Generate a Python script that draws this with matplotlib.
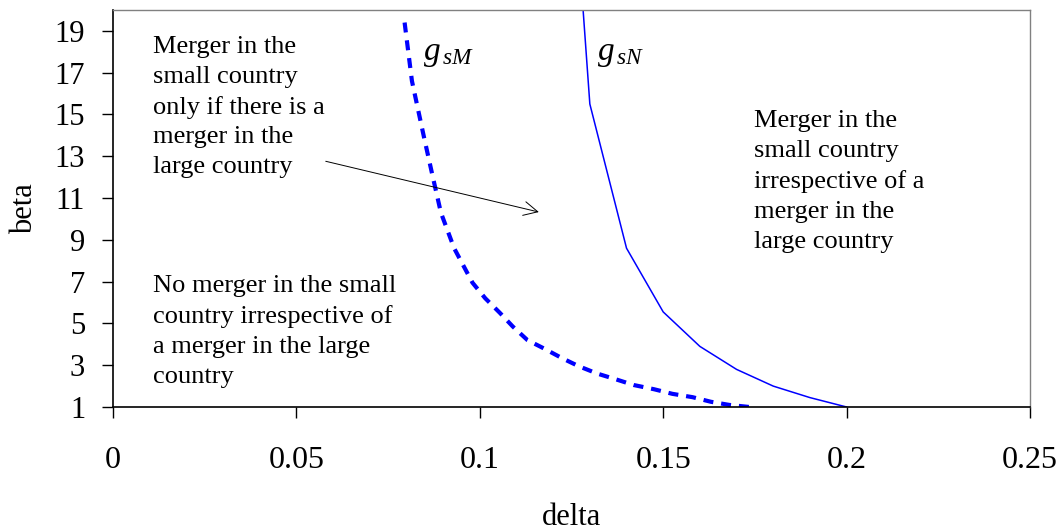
import matplotlib
matplotlib.use("Agg")
import matplotlib.pyplot as plt

# Daten
delta_M = [0.0795, 0.0815, 0.0848, 0.0872, 0.0894, 0.093, 0.098, 0.1015, 0.1055, 0.109,
           0.113, 0.1175, 0.1225, 0.127, 0.132, 0.137, 0.142, 0.1475, 0.1525, 0.158,
           0.163, 0.168, 0.1735]
beta_M = [19.4, 16.6, 13.9, 12.0, 10.3, 8.6, 6.95, 6.2, 5.5, 4.85,
          4.2, 3.8, 3.33, 2.95, 2.6, 2.33, 2.05, 1.85, 1.63, 1.47,
          1.25, 1.1, 1.0]

delta_N = [0.12, 0.13, 0.14, 0.15, 0.16, 0.17, 0.18, 0.19, 0.2]
beta_N = [40.0, 15.5, 8.6, 5.55, 3.9, 2.8, 2.0, 1.45, 1.0]

x_ticks = [0, 0.05, 0.1, 0.15, 0.2, 0.25]
x_labels = ['0', '0.05', '0.1', '0.15', '0.2', '0.25']
y_ticks = [1, 3, 5, 7, 9, 11, 13, 15, 17, 19]

plt.rcParams['font.family'] = ['Liberation Serif', 'DejaVu Serif']
plt.rcParams['mathtext.fontset'] = 'custom'
plt.rcParams['mathtext.it'] = 'Liberation Serif:italic'
plt.rcParams['mathtext.rm'] = 'Liberation Serif'

fig = plt.figure(figsize=(10.59, 5.31), dpi=100)
ax = fig.add_axes([113 / 1059, 1 - 407 / 531, (1030 - 113) / 1059, (407 - 10) / 531])

ax.plot(delta_M, beta_M, color='#0000ff', lw=3.0, linestyle=(0, (2.4, 1.9)),
        solid_capstyle='butt', dash_capstyle='butt')
ax.plot(delta_N, beta_N, color='#0000ff', lw=1.1)

ax.set_xlim(0, 0.25)
ax.set_ylim(1, 20)
ax.set_xticks(x_ticks)
ax.set_xticklabels(x_labels)
ax.set_yticks(y_ticks)

ax.tick_params(axis='x', direction='out', length=8, width=1, pad=20, labelsize=23)
ax.tick_params(axis='y', direction='out', length=8, width=1, pad=12, labelsize=22)

for side in ['left', 'bottom']:
    ax.spines[side].set_color('black')
    ax.spines[side].set_linewidth(1.2)
for side in ['top', 'right']:
    ax.spines[side].set_color('#808080')
    ax.spines[side].set_linewidth(1.0)

ax.set_xlabel('delta', fontsize=22, labelpad=20)
ax.set_ylabel('beta', fontsize=22, labelpad=11)

# Beschriftungen im Diagramm
ax.text(0.011, 18.75, 'Merger in the\nsmall country\nonly if there is a\nmerger in the\nlarge country',
        fontsize=19, va='top', ha='left', linespacing=1.45)
ax.text(0.011, 7.3, 'No merger in the small\ncountry irrespective of\na merger in the large\ncountry',
        fontsize=19, va='top', ha='left', linespacing=1.45)
ax.text(0.1748, 15.2, 'Merger in the\nsmall country\nirrespective of a\nmerger in the\nlarge country',
        fontsize=19, va='top', ha='left', linespacing=1.46)

ax.text(0.0845, 17.9, r'$g_{\,sM}$', fontsize=24, va='center', ha='left')
ax.text(0.132, 17.9, r'$g_{\,sN}$', fontsize=24, va='center', ha='left')

ax.annotate('', xy=(0.1161, 10.33), xytext=(0.058, 12.76),
            arrowprops=dict(arrowstyle='->', color='black', lw=0.7,
                            mutation_scale=25, shrinkA=0, shrinkB=0))

fig.savefig('out.png', dpi=100)
